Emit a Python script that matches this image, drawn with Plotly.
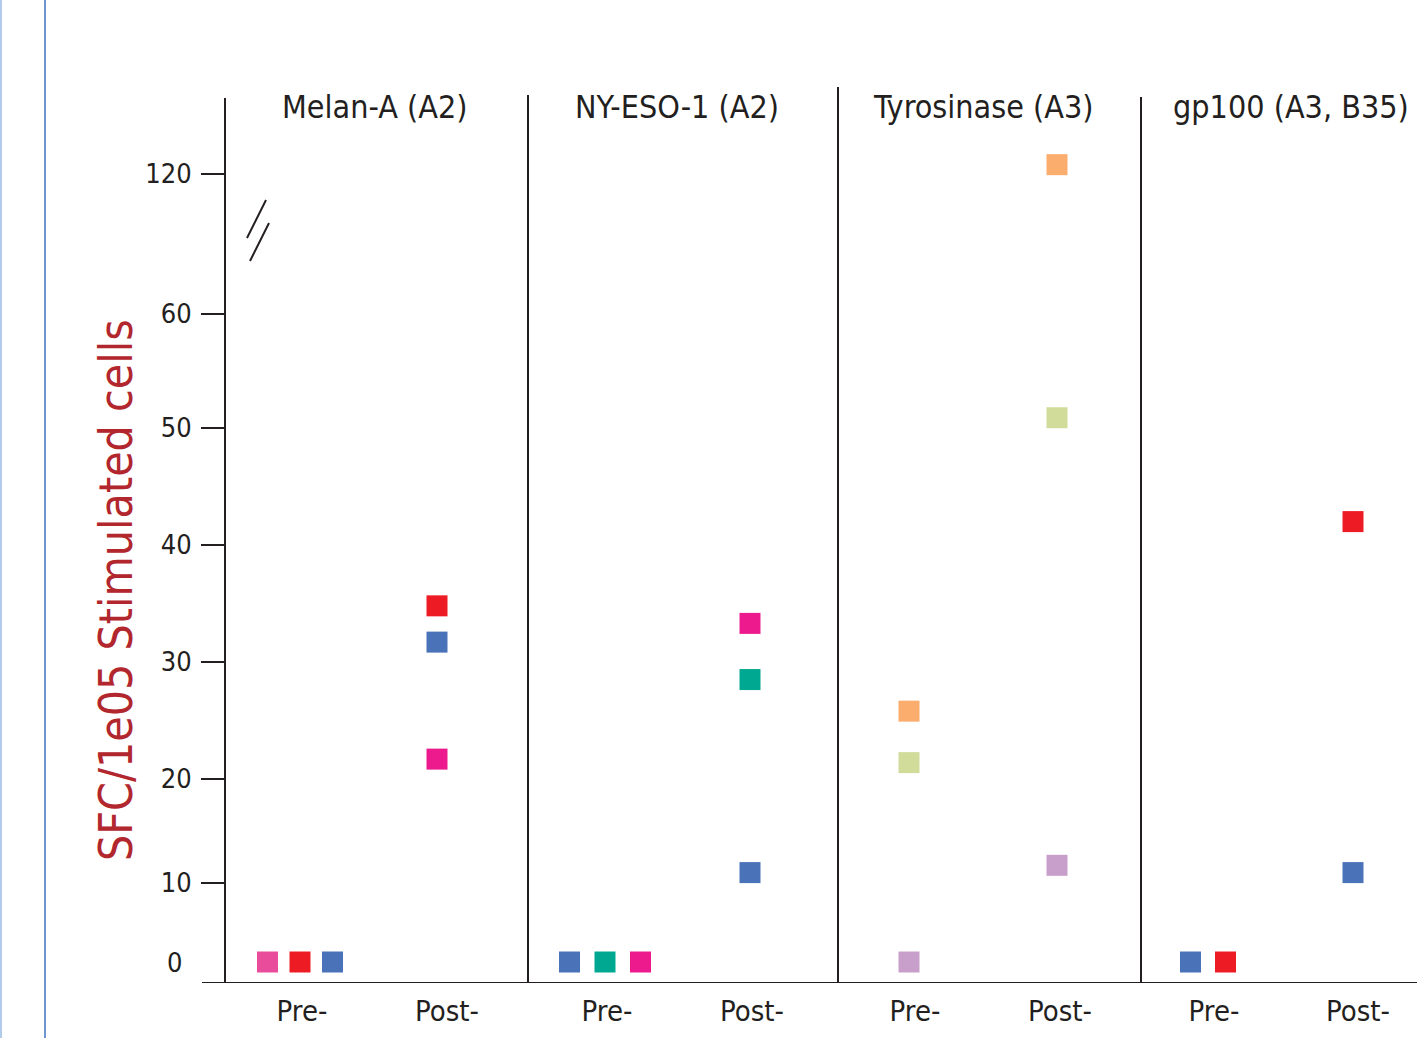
import numpy as np
import plotly.graph_objects as go

# ---------------- data ----------------
panels = ["Melan-A (A2)", "NY-ESO-1 (A2)", "Tyrosinase (A3)", "gp100 (A3, B35)"]
groups = ["Pre-", "Post-"]

PINK = "#e84c9a"
RED = "#ed1c24"
BLUE = "#4a72b8"
TEAL = "#00a891"
MAGENTA = "#ec1a8c"
ORANGE = "#fbad6e"
LGREEN = "#d1dc9b"
LAVENDER = "#c89fcb"

melan_pre = [0, 0, 0]
melan_pre_colors = [PINK, RED, BLUE]
melan_post = [34.8, 31.7, 21.7]
melan_post_colors = [RED, BLUE, MAGENTA]

nyeso_pre = [0, 0, 0]
nyeso_pre_colors = [BLUE, TEAL, MAGENTA]
nyeso_post = [33.3, 28.5, 11.0]
nyeso_post_colors = [MAGENTA, TEAL, BLUE]

tyro_pre = [25.8, 21.4, 0]
tyro_pre_colors = [ORANGE, LGREEN, LAVENDER]
tyro_post = [124, 50.9, 11.7]
tyro_post_colors = [ORANGE, LGREEN, LAVENDER]

gp100_pre = [0, 0]
gp100_pre_colors = [BLUE, RED]
gp100_post = [42.0, 11.0]
gp100_post_colors = [RED, BLUE]

y_tick_values = [10, 20, 30, 40, 50, 60, 120]
y_tick_labels = ["10", "20", "30", "40", "50", "60", "120"]

# ---------------- broken y-axis mapping (layout) ----------------
BREAK_VALUES = [0, 10, 20, 30, 40, 50, 60, 120]
BREAK_POS = [21, 100, 204, 321, 438, 555, 669, 809]


def ymap(v):
    v = np.asarray(v, dtype=float)
    out = np.interp(v, BREAK_VALUES, BREAK_POS)
    hi = v > 120
    out[hi] = 809 + (v[hi] - 120) * (140 / 60)
    return out


# ---------------- layout geometry ----------------
W, H = 1417, 1038
ML, MR, MT, MB = 225, 0, 80, 55
PW = W - ML - MR
PH = H - MT - MB
panel_px = [0, 303, 613, 916, PW]
panel_tops = [885, 888, 896, 886]
# per-panel horizontal layout (px from panel's left line)
label_pre_px = [77, 79, 77, 73]
label_post_px = [222, 224, 222, 217]
mark_pre_px = [75, 77, 71, 67]
mark_post_px = [212, 222, 219, 212]
pre_spread_px = [32.5, 35.5, 0, 35]

FONT = "Liberation Sans Narrow, DejaVu Sans Condensed, Roboto, sans-serif"
TXT = "#231f20"

data = [
    (melan_pre, melan_pre_colors, melan_post, melan_post_colors),
    (nyeso_pre, nyeso_pre_colors, nyeso_post, nyeso_post_colors),
    (tyro_pre, tyro_pre_colors, tyro_post, tyro_post_colors),
    (gp100_pre, gp100_pre_colors, gp100_post, gp100_post_colors),
]

fig = go.Figure()
layout_axes = {}
shapes = []
annotations = []

for i, (pre, prec, post, postc) in enumerate(data):
    ax = "x" if i == 0 else f"x{i+1}"
    unit = label_post_px[i] - label_pre_px[i]
    pre_c = (mark_pre_px[i] - label_pre_px[i]) / unit
    post_c = (mark_post_px[i] - label_pre_px[i]) / unit
    sp = pre_spread_px[i] / unit
    n = len(pre)
    xs_pre = [pre_c + (k - (n - 1) / 2) * sp for k in range(n)]
    xs = xs_pre + [post_c] * len(post)
    ys = ymap(list(pre) + list(post))
    fig.add_trace(go.Scatter(
        x=xs, y=ys, mode="markers", xaxis=ax, yaxis="y",
        marker=dict(symbol="square", size=21, color=list(prec) + list(postc),
                    line=dict(width=0)),
        showlegend=False, hoverinfo="skip"))

    d0 = panel_px[i] / PW
    d1 = panel_px[i + 1] / PW
    width_px = panel_px[i + 1] - panel_px[i]
    key = "xaxis" if i == 0 else f"xaxis{i+1}"
    layout_axes[key] = dict(
        domain=[d0, d1], anchor="y",
        range=[-label_pre_px[i] / unit, (width_px - label_pre_px[i]) / unit],
        tickvals=[0, 1], ticktext=groups, ticks="", showline=False,
        showgrid=False, zeroline=False,
        tickfont=dict(family=FONT, size=29, color=TXT),
        ticklabelstandoff=8,
    )
    # panel divider line
    shapes.append(dict(type="line", xref="paper", yref="y", x0=d0, x1=d0,
                       y0=0, y1=panel_tops[i], line=dict(color=TXT, width=2)))

# baseline
shapes.append(dict(type="line", xref="paper", yref="y", x0=-23 / PW, x1=1,
                   y0=0, y1=0, line=dict(color=TXT, width=2)))
# axis break marks
for (x0, y0, x1, y1) in [(266, 200, 247, 238), (269, 223, 250, 261)]:
    shapes.append(dict(type="line", xref="paper", yref="y",
                       x0=(x0 - ML) / PW, x1=(x1 - ML) / PW,
                       y0=(MT + PH) - y0, y1=(MT + PH) - y1,
                       line=dict(color=TXT, width=2)))
# page border lines
shapes.append(dict(type="line", xref="paper", yref="paper", x0=(45 - ML) / PW,
                   x1=(45 - ML) / PW, y0=-MB / PH, y1=1 + MT / PH,
                   line=dict(color="#6f95d0", width=2)))
shapes.append(dict(type="line", xref="paper", yref="paper", x0=(1 - ML) / PW,
                   x1=(1 - ML) / PW, y0=-MB / PH, y1=1 + MT / PH,
                   line=dict(color="#b3cbea", width=2)))

# panel titles
title_x_px = [280, 573, 871, 1411]
title_anchor = ["left", "left", "left", "right"]
for i, t in enumerate(panels):
    annotations.append(dict(text=t, xref="paper", yref="y",
                            x=(title_x_px[i] - ML) / PW, y=(MT + PH) - 107,
                            xanchor=title_anchor[i], yanchor="middle",
                            showarrow=False,
                            font=dict(family=FONT, size=32, color=TXT)))
# "0" label (no tick mark in original)
annotations.append(dict(text="0", xref="paper", yref="y", x=(184 - ML) / PW,
                        y=ymap([0])[0], xanchor="right", yanchor="middle",
                        showarrow=False,
                        font=dict(family=FONT, size=27, color=TXT)))
# y title
annotations.append(dict(text="SFC/1e05 Stimulated cells", xref="paper", yref="y",
                        x=(116 - ML) / PW, y=(MT + PH) - 590, textangle=-90,
                        xanchor="center", yanchor="middle", showarrow=False,
                        font=dict(family=FONT, size=46, color="#b2262e")))

fig.update_layout(
    width=W, height=H,
    margin=dict(l=ML, r=MR, t=MT, b=MB),
    paper_bgcolor="white", plot_bgcolor="white",
    yaxis=dict(domain=[0, 1], range=[0, PH], anchor="x",
               tickvals=list(ymap(y_tick_values)), ticktext=y_tick_labels,
               ticks="outside", ticklen=23, tickwidth=2, tickcolor=TXT,
               showline=False, showgrid=False, zeroline=False,
               tickfont=dict(family=FONT, size=27, color=TXT),
               ticklabelstandoff=4),
    shapes=shapes, annotations=annotations,
    **layout_axes,
)

fig.write_html(
    "out.html",
    config={"displayModeBar": False},
    post_script="document.body.style.margin='0px';"
                "document.body.style.overflow='hidden';",
)
